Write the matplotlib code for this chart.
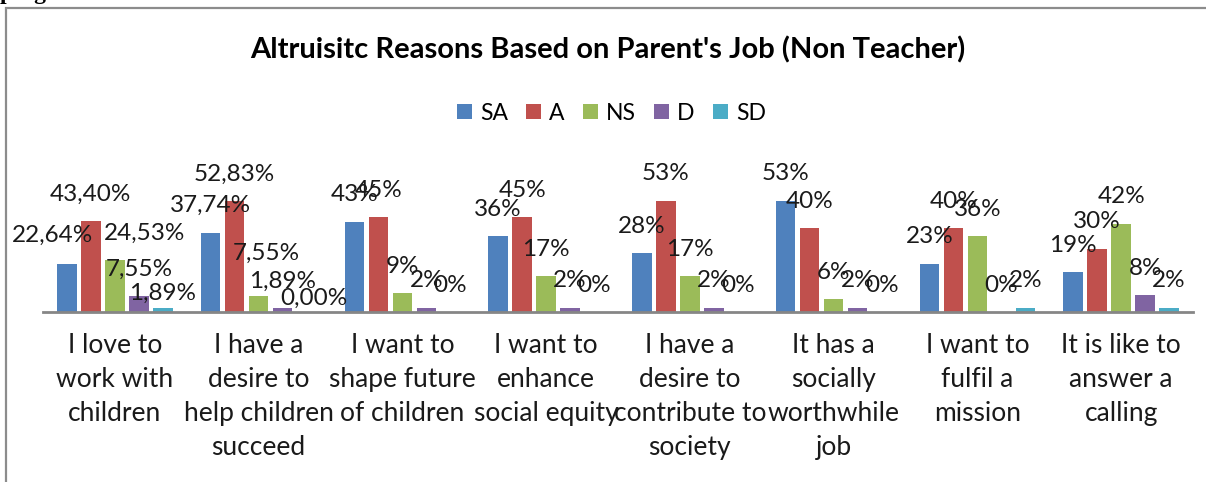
import numpy as np
import matplotlib
matplotlib.use("Agg")
import matplotlib.pyplot as plt
from matplotlib.patches import Rectangle

plt.rcParams['font.family'] = ['Lato', 'DejaVu Sans']

categories = [
    "I love to\nwork with\nchildren",
    "I have a\ndesire to\nhelp children\nsucceed",
    "I want to\nshape future\nof children",
    "I want to\nenhance\nsocial equity",
    "I have a\ndesire to\ncontribute to\nsociety",
    "It has a\nsocially\nworthwhile\njob",
    "I want to\nfulfil a\nmission",
    "It is like to\nanswer a\ncalling",
]
series = ["SA", "A", "NS", "D", "SD"]
SA = [22.64, 37.74, 43, 36, 28, 53, 23, 19]
A = [43.40, 52.83, 45, 45, 53, 40, 40, 30]
NS = [24.53, 7.55, 9, 17, 17, 6, 36, 42]
D = [7.55, 1.89, 2, 2, 2, 2, 0, 8]
SD = [1.89, 0.00, 0, 0, 0, 0, 2, 2]
values = [SA, A, NS, D, SD]
decimals = [2, 2, 0, 0, 0, 0, 0, 0]  # first two groups show two decimals

colors = ["#4F81BD", "#C0504D", "#9BBB59", "#8064A2", "#4BACC6"]

# label nudges (pixels) where the original labels were moved
nudge = {(0, 0): (-14, 2), (0, 2): (30, 0), (0, 4): (0, -12),
         (1, 2): (8, 16), (1, 4): (7, -13)}

W, H = 1206, 482
fig = plt.figure(figsize=(W / 100, H / 100), dpi=100)

# outer frame (cut by the image edges on the right/bottom)
fig.patches.append(Rectangle((6 / W, -0.1), 1.5, 1 - 8 / H + 0.1,
                             transform=fig.transFigure, fill=False,
                             edgecolor="#8c8c8c", linewidth=1.6))
fig.text(0.0, 1 + 1 / H, "program", family=["Liberation Serif", "DejaVu Serif"],
         fontweight="bold", fontsize=17, va="baseline", ha="left")

ax = fig.add_axes([43 / W, 170 / H, 1150 / W, 147 / H])
x = np.arange(len(categories))
step = 0.167
bw = 0.135
for i, (name, vals, c) in enumerate(zip(series, values, colors)):
    pos = x + (i - 2) * step
    ax.bar(pos, vals, width=bw, color=c, label=name, zorder=2)
    for j, v in enumerate(vals):
        if decimals[j]:
            txt = f"{v:.2f}".replace(".", ",") + "%"
        else:
            txt = f"{v:.0f}%"
        dx, dy = nudge.get((j, i), (0, 0))
        ax.annotate(txt, (pos[j], v), xytext=(dx, 27 + dy),
                    textcoords="offset pixels", ha="center", va="center",
                    fontsize=17.5, color="#1a1a1a", annotation_clip=False)

ax.set_xlim(-0.5, len(categories) - 0.5)
ax.set_ylim(0, 70)
for s in ["top", "right", "left"]:
    ax.spines[s].set_visible(False)
ax.spines["bottom"].set_color("#868686")
ax.spines["bottom"].set_linewidth(2)
ax.set_yticks([])
ax.set_xticks(x)
ax.set_xticklabels(categories, fontsize=19, linespacing=1.45, color="#1a1a1a",
                   va="top")
ax.tick_params(axis="x", length=0, pad=15)

fig.text(0.504, 1 - 50 / H, "Altruisitc Reasons Based on Parent's Job (Non Teacher)",
         ha="center", va="center", fontsize=21, fontweight="bold")

fig.legend(loc="center", bbox_to_anchor=(0.507, 1 - 113 / H), ncol=5,
           frameon=False, fontsize=16.5, handlelength=0.65, handleheight=0.65,
           handletextpad=0.35, columnspacing=0.8)

fig.savefig("out.png", dpi=100)
